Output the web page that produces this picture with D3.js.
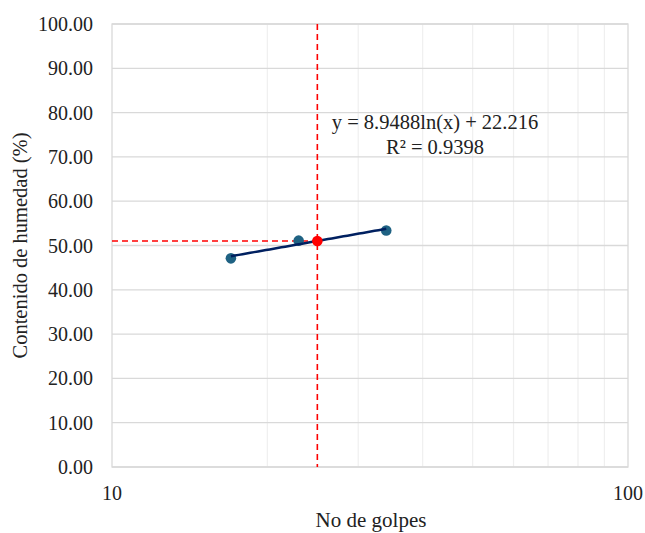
<!DOCTYPE html>
<html><head><meta charset="utf-8">
<script src="https://cdn.jsdelivr.net/npm/d3@7/dist/d3.min.js"></script>
<style>body{margin:0;background:#fff}</style>
</head><body>
<svg id="c" width="645" height="533"></svg>
<script>
const golpes = [17, 23, 34];
const humedad = [47.1, 51.1, 53.4];
const trendA = 8.9488, trendB = 22.216;
const targetX = 25;
const yTicks = [0,10,20,30,40,50,60,70,80,90,100];
const xTickLabels = [10, 100];
const xGrid = [20,30,40,50,60,70,80,90];
const eqText = "y = 8.9488ln(x) + 22.216";
const r2Text = "R² = 0.9398";

const svg = d3.select("#c");
const L=112, R=628, T=24, B=467;
const x = d3.scaleLog().domain([10,100]).range([L,R]);
const y = d3.scaleLinear().domain([0,100]).range([B,T]);
const font = "'Liberation Serif', 'Times New Roman', serif";

svg.append("g").selectAll("line").data(xGrid).join("line")
  .attr("x1",d=>x(d)).attr("x2",d=>x(d)).attr("y1",T).attr("y2",B)
  .attr("stroke","#efefef").attr("stroke-width",1.2);
svg.append("g").selectAll("line").data(yTicks).join("line")
  .attr("x1",L).attr("x2",R).attr("y1",d=>y(d)).attr("y2",d=>y(d))
  .attr("stroke","#d9d9d9").attr("stroke-width",1.3);
svg.append("rect").attr("x",L).attr("y",T).attr("width",R-L).attr("height",B-T)
  .attr("fill","none").attr("stroke","#d9d9d9").attr("stroke-width",1.3);

svg.append("g").selectAll("text").data(yTicks).join("text")
  .attr("x",93).attr("y",d=>y(d)).attr("dy","0.35em").attr("text-anchor","end")
  .style("font-family",font).style("font-size","20px").attr("fill","#222")
  .text(d=>d3.format(".2f")(d));
svg.append("g").selectAll("text").data(xTickLabels).join("text")
  .attr("x",d=>x(d)).attr("y",500).attr("text-anchor","middle")
  .style("font-family",font).style("font-size","20px").attr("fill","#222")
  .text(d=>d);

svg.append("text").attr("x",(L+R)/2+1).attr("y",527).attr("text-anchor","middle")
  .style("font-family",font).style("font-size","21px").attr("fill","#222").text("No de golpes");
svg.append("text").attr("transform",`translate(27,${(T+B)/2}) rotate(-90)`)
  .attr("text-anchor","middle")
  .style("font-family",font).style("font-size","20.5px").attr("fill","#222").text("Contenido de humedad (%)");

const yT = trendA*Math.log(targetX)+trendB;
svg.append("line").attr("x1",L).attr("x2",x(targetX)).attr("y1",y(yT)).attr("y2",y(yT))
  .attr("stroke","#ff0000").attr("stroke-width",1.6).attr("stroke-dasharray","6,4");
svg.append("line").attr("x1",x(targetX)).attr("x2",x(targetX)).attr("y1",T).attr("y2",B)
  .attr("stroke","#ff0000").attr("stroke-width",1.6).attr("stroke-dasharray","6,4");

svg.append("g").selectAll("circle").data(golpes).join("circle")
  .attr("cx",d=>x(d)).attr("cy",(d,i)=>y(humedad[i])).attr("r",5.3)
  .attr("fill","#1f6283");

const xs = d3.range(0,41).map(i=>golpes[0]*Math.pow(golpes[2]/golpes[0],i/40));
svg.append("path").datum(xs)
  .attr("d",d3.line().x(d=>x(d)).y(d=>y(trendA*Math.log(d)+trendB)))
  .attr("fill","none").attr("stroke","#002060").attr("stroke-width",2.5);

svg.append("circle").attr("cx",x(targetX)).attr("cy",y(yT)).attr("r",5.3).attr("fill","#ff0000");

svg.append("text").attr("x",435).attr("y",129).attr("text-anchor","middle")
  .style("font-family",font).style("font-size","20.5px").attr("fill","#222").text(eqText);
svg.append("text").attr("x",435).attr("y",154).attr("text-anchor","middle")
  .style("font-family",font).style("font-size","20.5px").attr("fill","#222").text(r2Text);
</script>
</body></html>
